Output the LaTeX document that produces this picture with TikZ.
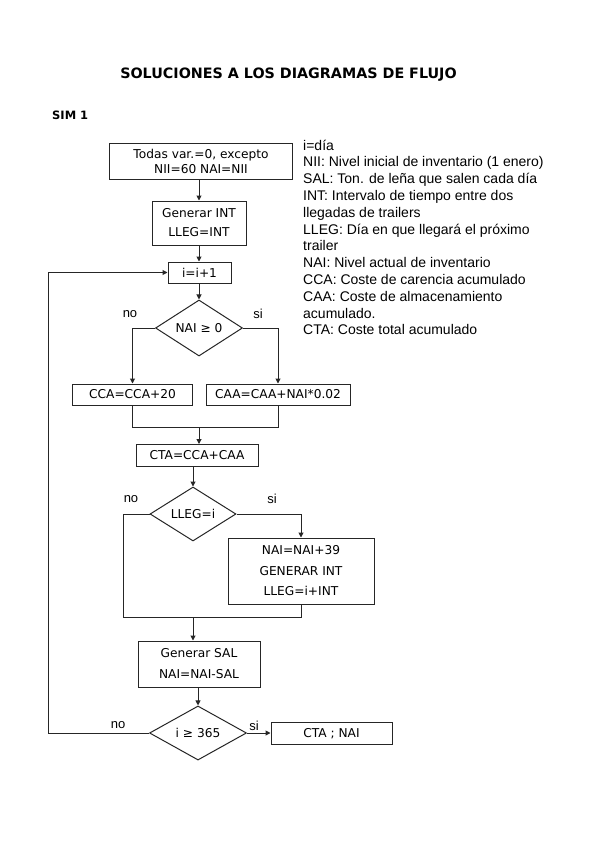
\documentclass[tikz,border=0pt]{standalone}
\usepackage{fontspec}
\setmainfont{DejaVu Sans}
\newfontfamily\legfont{Liberation Sans}
\usetikzlibrary{arrows.meta,shapes.geometric}
\begin{document}
\begin{tikzpicture}[x=1pt,y=-1pt,
  box/.style={draw=black!85, line width=1pt, rectangle, inner sep=0pt, font=\fontsize{12.2}{14}\selectfont, align=center},
  dia/.style={draw=black!85, line width=1pt, diamond, inner sep=0pt, font=\fontsize{12.2}{14}\selectfont},
  conn/.style={draw=black!85, line width=1pt},
  arr/.style={conn, -{Triangle[length=5pt,width=5pt]}},
  lbl/.style={font=\legfont\fontsize{13}{15}\selectfont, inner sep=0pt},
  leg/.style={font=\legfont\fontsize{14}{16.8}\selectfont, inner sep=0pt, anchor=base west}
]
\useasboundingbox (0,0) rectangle (599,848);

\node[font=\bfseries\fontsize{14.3}{16}\selectfont] (title) at (288.5,75) {SOLUCIONES A LOS DIAGRAMAS DE FLUJO};
\node[font=\bfseries\fontsize{11.5}{14}\selectfont, anchor=west, inner sep=0pt] (sim) at (52,115) {SIM 1};

\node[box, minimum width=183pt, minimum height=36pt, font=\fontsize{12.2}{15}\selectfont] (b1) at (201,161) {Todas var.=0, excepto\\NII=60 NAI=NII};
\node[box, minimum width=94pt, minimum height=44pt, font=\fontsize{12.2}{19}\selectfont] (b2) at (199,223) {Generar INT\\LLEG=INT};
\node[box, minimum width=63pt, minimum height=21pt] (b3) at (199.5,272.5) {i=i+1};
\node[dia, minimum width=87pt, minimum height=52pt] (d1) at (199,328) {NAI ≥ 0};
\node[box, minimum width=120pt, minimum height=21pt] (cca) at (132.5,394.5) {CCA=CCA+20};
\node[box, minimum width=144pt, minimum height=21pt] (caa) at (278,394.5) {CAA=CAA+NAI*0.02};
\coordinate (m1) at (199,427);
\node[box, minimum width=122pt, minimum height=22pt] (cta) at (197,455.5) {CTA=CCA+CAA};
\node[dia, minimum width=86pt, minimum height=54pt] (d2) at (193,514) {LLEG=i};
\node[box, minimum width=146pt, minimum height=66pt, font=\fontsize{12.2}{20.5}\selectfont] (b4) at (301,571) {NAI=NAI+39\\GENERAR INT\\LLEG=i+INT};
\coordinate (nl) at (123,514);
\coordinate (m2) at (193,617);
\node[box, minimum width=122pt, minimum height=46pt, font=\fontsize{12.2}{21}\selectfont] (b5) at (199,664) {Generar SAL\\NAI=NAI-SAL};
\node[dia, minimum width=97pt, minimum height=43pt] (d3) at (198,733) {i ≥ 365};
\node[box, minimum width=121pt, minimum height=22pt] (out) at (331.5,733.5) {CTA ; NAI};
\coordinate (lp) at (48,733);

\draw[arr] (b1.south -| b2) -- (b2.north);
\draw[arr] (b2.south) -- (b2.south |- b3.north);
\draw[arr] (b3.south -| d1) -- (d1.north);
\draw[arr] (d1.west) -| (cca.north);
\draw[arr] (d1.east) -| (caa.north);
\draw[conn] (cca.south) |- (m1);
\draw[conn] (caa.south) |- (m1);
\draw[arr] (m1) -- (m1 |- cta.north);
\draw[arr] (cta.south -| d2) -- (d2.north);
\draw[arr] (d2.east) -| (b4.north);
\draw[conn] (d2.west) -- (nl) |- (m2);
\draw[conn] (b4.south) |- (m2);
\draw[arr] (m2) -- (m2 |- b5.north);
\draw[arr] (b5.south -| d3) -- (d3.north);
\draw[arr] (d3.east) -- (d3.east -| out.west);
\draw[arr] (d3.west) -- (lp) |- (b3.west);

\node[lbl] (no1) at (130,314) {no};
\node[lbl] (si1) at (258,314) {si};
\node[lbl] (no2) at (131,499) {no};
\node[lbl] (si2) at (272,499) {si};
\node[lbl] (no3) at (118,725) {no};
\node[lbl] (si3) at (254,726) {si};

\node[leg] (l1) at (303,150) {i=día};
\node[leg] (l2) at (303,166.8) {NII: Nivel inicial de inventario (1 enero)};
\node[leg] (l3) at (303,183.6) {SAL: Ton. de leña que salen cada día};
\node[leg] (l4) at (303,200.4) {INT: Intervalo de tiempo entre dos};
\node[leg] (l5) at (303,217.2) {llegadas de trailers};
\node[leg] (l6) at (303,234) {LLEG: Día en que llegará el próximo};
\node[leg] (l7) at (303,250.8) {trailer};
\node[leg] (l8) at (303,267.6) {NAI: Nivel actual de inventario};
\node[leg] (l9) at (303,284.4) {CCA: Coste de carencia acumulado};
\node[leg] (l10) at (303,301.2) {CAA: Coste de almacenamiento};
\node[leg] (l11) at (303,318) {acumulado.};
\node[leg] (l12) at (303,334.8) {CTA: Coste total acumulado};
\end{tikzpicture}
\end{document}
